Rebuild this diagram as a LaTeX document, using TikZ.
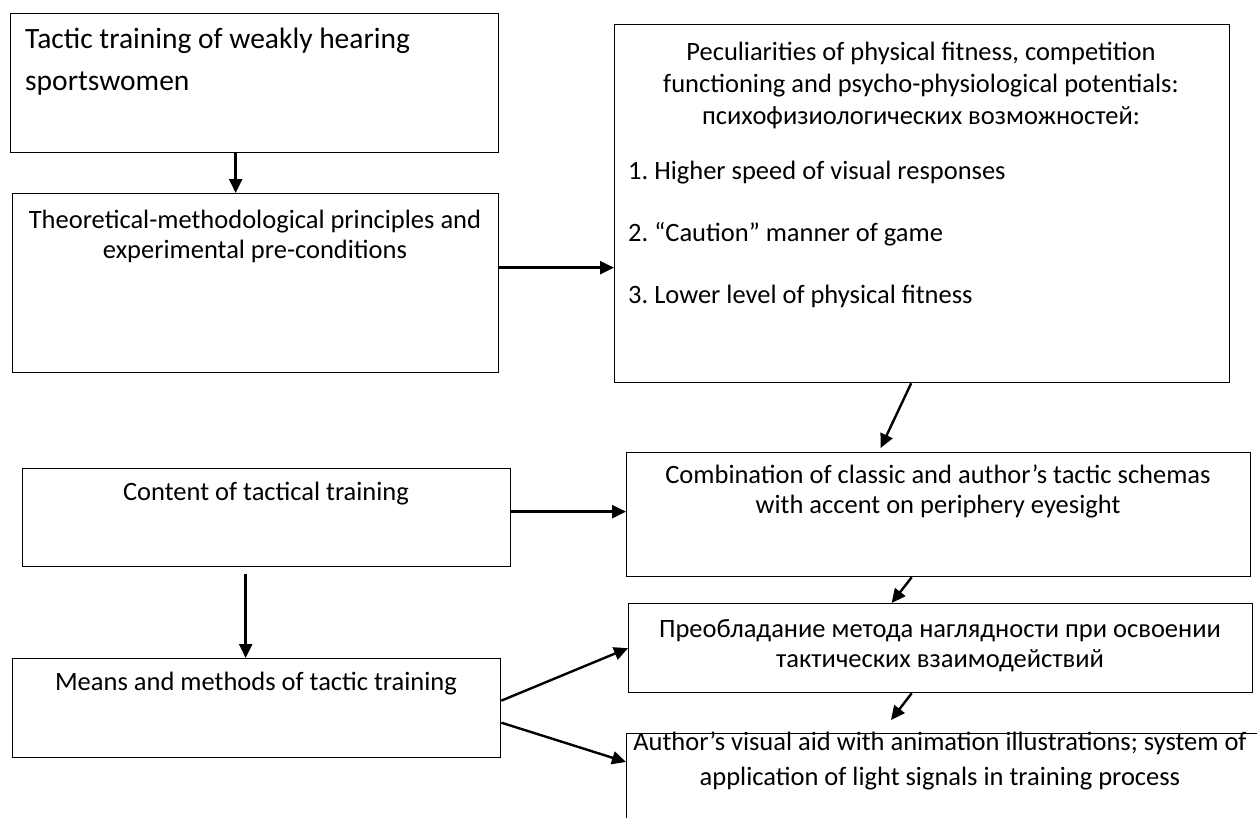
\documentclass[tikz,border=0pt]{standalone}
\usepackage{fontspec}
\setmainfont{Carlito}
\usetikzlibrary{arrows.meta}
\frenchspacing
\tikzset{
  box/.style={draw=black, line width=1.3pt, rectangle, inner sep=0pt, anchor=north west},
  txt/.style={inner sep=0pt, font=\fontsize{26.5}{30}\selectfont, align=center},
  arr/.style={line width=2.4pt, -{Triangle[length=14pt,width=13pt]}}
}
\begin{document}
\begin{tikzpicture}[x=1pt, y=-1pt]
\clip (0,0) rectangle (1257,817);
\fill[white] (0,0) rectangle (1257,817);
% boxes
\node[box, minimum width=488pt, minimum height=139pt] (A) at (10,13) {};
\node[box, minimum width=486pt, minimum height=179pt] (B) at (12,193) {};
\node[box, minimum width=615pt, minimum height=358pt] (C) at (614,24) {};
\node[box, minimum width=488pt, minimum height=98pt] (T) at (22,468) {};
\node[box, minimum width=624pt, minimum height=124pt] (D) at (626,452) {};
\node[box, minimum width=488pt, minimum height=99pt] (M) at (12,658) {};
\node[box, minimum width=624pt, minimum height=89pt] (E) at (628,603) {};
\node[box, minimum width=700pt, minimum height=170pt] (F) at (626,733) {};
% texts
\node[txt, anchor=west, align=left, font=\fontsize{29.5}{42}\selectfont] (At) at (25,62) {Tactic training of weakly hearing\\sportswomen};
\node[txt] (Bt) at (255,236) {Theoretical-methodological principles and\\experimental pre-conditions};
\node[txt, font=\fontsize{26.5}{32}\selectfont] (Ct) at (921,85) {Peculiarities of physical fitness, competition\\functioning and psycho-physiological potentials:\\психофизиологических возможностей:};
\node[txt, anchor=west, align=left, font=\fontsize{26.5}{62}\selectfont] (Cl) at (628,234) {1. Higher speed of visual responses\\2. “Caution” manner of game\\3. Lower level of physical fitness};
\node[txt] (Tt) at (266,494) {Content of tactical training};
\node[txt] (Mt) at (256,684) {Means and methods of tactic training};
\node[txt, font=\fontsize{26.5}{30}\selectfont] (Dt) at (938,491) {Combination of classic and author’s tactic schemas\\with accent on periphery eyesight};
\node[txt] (Et) at (940,646) {Преобладание метода наглядности при освоении\\тактических взаимодействий};
\node[txt, font=\fontsize{26.5}{35}\selectfont] (Ft) at (940,761) {Author’s visual aid with animation illustrations; system of\\application of light signals in training process};
% connectors
\coordinate (Fend) at (891,720);
\draw[arr] ([xshift=-19pt]A.south) -- ([xshift=-19pt]A.south |- B.north);
\draw[arr] ([yshift=15.5pt]B.east) -- ([yshift=15.5pt]B.east -| C.west);
\draw[arr] ([xshift=-11pt]C.south) -- ([xshift=-58pt,yshift=4pt]D.north);
\draw[arr, shorten <=7pt] ([xshift=-21pt]T.south) -- ([xshift=-21pt]T.south |- M.north);
\draw[arr] ([yshift=6pt]T.east) -- ([yshift=6pt]T.east -| D.west);
\draw[arr] ([xshift=-27pt]D.south) -- ([xshift=-49pt]E.north);
\draw[arr] ([xshift=-29pt]E.south) -- (Fend);
\draw[arr] ([yshift=7.5pt]M.east) -- (E.west);
\draw[arr] ([yshift=-14.5pt]M.east) -- ([yshift=-29pt]F.north west);
\end{tikzpicture}
\end{document}
